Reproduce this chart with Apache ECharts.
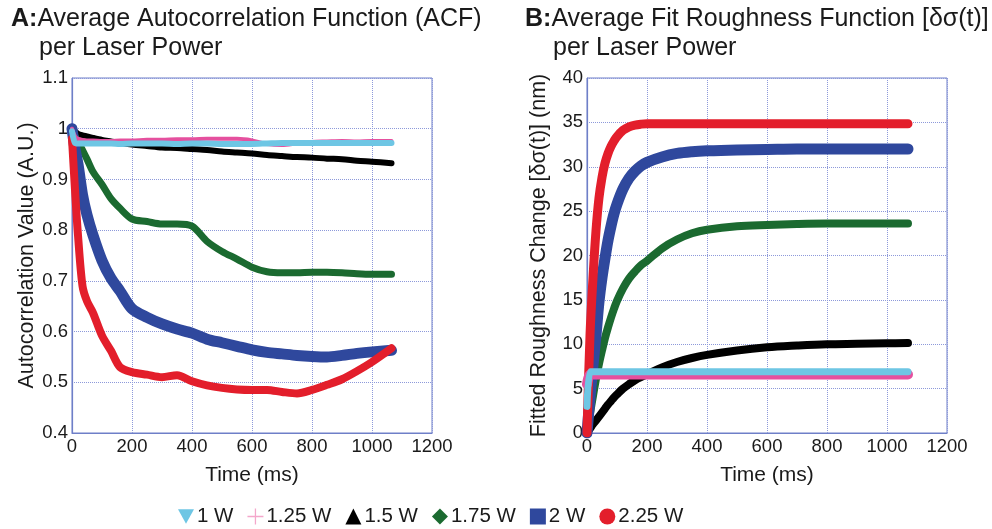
<!DOCTYPE html>
<html>
<head>
<meta charset="utf-8">
<script src="https://cdn.jsdelivr.net/npm/echarts@6/dist/echarts.min.js"></script>
<style>
html,body{margin:0;padding:0;background:#fff;}
#c{width:992px;height:529px;}
</style>
</head>
<body>
<div id="c"></div>
<script>
// ---------- Panel A: Average ACF (time in ms) ----------
const timeA = [0, 10, 20, 35, 50, 70, 100, 130, 160, 200, 250, 300, 350, 400, 450, 500, 550, 600, 650, 700, 750, 800, 850, 900, 950, 1000, 1065];
const acf1W   = [0.995, 0.972, 0.971, 0.971, 0.971, 0.971, 0.971, 0.971, 0.970, 0.971, 0.971, 0.971, 0.970, 0.971, 0.971, 0.970, 0.970, 0.970, 0.971, 0.972, 0.972, 0.972, 0.972, 0.972, 0.972, 0.972, 0.972];
const acf125W = [1.000, 0.985, 0.980, 0.978, 0.977, 0.977, 0.976, 0.976, 0.977, 0.977, 0.978, 0.978, 0.979, 0.979, 0.980, 0.980, 0.980, 0.977, 0.970, 0.968, 0.971, 0.974, 0.975, 0.976, 0.975, 0.976, 0.976];
const acf15W  = [1.000, 0.995, 0.990, 0.987, 0.985, 0.982, 0.978, 0.975, 0.972, 0.969, 0.966, 0.963, 0.962, 0.960, 0.958, 0.955, 0.953, 0.951, 0.948, 0.946, 0.944, 0.943, 0.941, 0.940, 0.937, 0.935, 0.932];
const acf175W = [1.000, 0.985, 0.975, 0.958, 0.940, 0.915, 0.890, 0.862, 0.843, 0.822, 0.817, 0.812, 0.812, 0.808, 0.778, 0.758, 0.743, 0.727, 0.718, 0.716, 0.716, 0.717, 0.717, 0.716, 0.714, 0.713, 0.713];
const acf2W   = [1.000, 0.960, 0.930, 0.870, 0.830, 0.790, 0.740, 0.705, 0.680, 0.645, 0.628, 0.615, 0.605, 0.597, 0.585, 0.578, 0.571, 0.564, 0.559, 0.556, 0.553, 0.551, 0.550, 0.553, 0.557, 0.560, 0.563];
const acf225W = [0.980, 0.880, 0.790, 0.690, 0.660, 0.637, 0.592, 0.562, 0.530, 0.520, 0.515, 0.510, 0.514, 0.502, 0.494, 0.489, 0.486, 0.485, 0.485, 0.481, 0.478, 0.485, 0.495, 0.506, 0.522, 0.540, 0.567];

// ---------- Panel B: Fitted roughness change (nm) ----------
const timeB = [0, 10, 20, 30, 40, 50, 60, 70, 80, 90, 100, 120, 140, 160, 180, 200, 250, 300, 350, 400, 500, 600, 700, 800, 900, 1000, 1070];
const rough1W   = [3.0, 6.9, 6.9, 6.9, 6.9, 6.9, 6.9, 6.9, 6.9, 6.9, 6.9, 6.9, 6.9, 6.9, 6.9, 6.9, 6.9, 6.9, 6.9, 6.9, 6.9, 6.9, 6.9, 6.9, 6.9, 6.9, 6.9];
const rough125W = [5.5, 6.6, 6.6, 6.6, 6.6, 6.6, 6.6, 6.6, 6.6, 6.6, 6.6, 6.6, 6.6, 6.6, 6.6, 6.6, 6.6, 6.6, 6.6, 6.6, 6.6, 6.6, 6.6, 6.6, 6.6, 6.6, 6.6];
const rough15W  = [0, 0.5, 1.0, 1.4, 1.85, 2.3, 2.75, 3.2, 3.6, 4.0, 4.35, 5.0, 5.5, 5.95, 6.3, 6.6, 7.4, 8.0, 8.45, 8.8, 9.3, 9.65, 9.85, 10.0, 10.05, 10.1, 10.15];
const rough175W = [0, 2.2, 4.2, 6.1, 7.8, 9.3, 10.7, 11.9, 13.0, 14.0, 14.9, 16.3, 17.4, 18.2, 18.9, 19.4, 20.8, 21.8, 22.5, 22.9, 23.3, 23.45, 23.55, 23.6, 23.6, 23.6, 23.6];
const rough2W   = [0, 4.0, 7.6, 11.0, 14.8, 17.5, 19.7, 21.7, 23.3, 24.7, 25.8, 27.5, 28.7, 29.5, 30.1, 30.5, 31.1, 31.5, 31.7, 31.8, 31.9, 31.95, 32.0, 32.0, 32.0, 32.0, 32.0];
const rough225W = [0, 11.0, 17.5, 22.8, 26.5, 28.8, 30.4, 31.5, 32.3, 32.9, 33.4, 34.1, 34.5, 34.7, 34.8, 34.85, 34.85, 34.85, 34.85, 34.85, 34.85, 34.85, 34.85, 34.85, 34.85, 34.85, 34.85];

// ---------- Labels ----------
const seriesNames = ['1 W', '1.25 W', '1.5 W', '1.75 W', '2 W', '2.25 W'];
const xTicks = [0, 200, 400, 600, 800, 1000, 1200];

const colors = ['#6EC6E4', '#E5509E', '#000000', '#1B6A30', '#2F489D', '#E31E2B'];
const legendColors = ['#6EC6E4', '#F4A7CB', '#000000', '#1B6A30', '#2F489D', '#E31E2B'];
const icons = [
  'path://M0,0L10,0L5,9Z',
  'path://M4.6,0h0.8v4.6h4.6v0.8h-4.6v4.6h-0.8v-4.6h-4.6v-0.8h4.6Z',
  'triangle',
  'diamond',
  'rect',
  'circle'
];
const widthsA = [6, 4, 6, 7, 11, 8];
const widthsB = [7, 10, 8, 8, 11, 9];

const FONT = '"Liberation Sans", Arial, Helvetica, sans-serif';
const AXIS_COLOR = '#6E7FC8';
const GRID_COLOR = '#8D99DA';
const TXT = '#1a1a1a';

function pairs(t, v) { return t.map((x, i) => [x, v[i]]); }

const dataA = [acf1W, acf125W, acf15W, acf175W, acf2W, acf225W];
const dataB = [rough1W, rough125W, rough15W, rough175W, rough2W, rough225W];
const drawOrder = [2, 3, 4, 5, 1, 0];

const series = [];
drawOrder.forEach(i => {
  series.push({
    name: seriesNames[i], type: 'line', xAxisIndex: 0, yAxisIndex: 0,
    data: pairs(timeA, dataA[i]), showSymbol: false, smooth: 0.3,
    lineStyle: { color: colors[i], width: widthsA[i], cap: 'round', join: 'round' },
    itemStyle: { color: colors[i] }
  });
});
drawOrder.forEach(i => {
  series.push({
    name: seriesNames[i], type: 'line', xAxisIndex: 1, yAxisIndex: 1,
    data: pairs(timeB, dataB[i]), showSymbol: false, smooth: 0.35,
    lineStyle: { color: colors[i], width: widthsB[i], cap: 'round', join: 'round' },
    itemStyle: { color: colors[i] }
  });
});

function xAxis(gi) {
  return {
    gridIndex: gi, type: 'value', min: xTicks[0], max: xTicks[xTicks.length - 1], interval: 200,
    name: 'Time (ms)', nameLocation: 'middle', nameGap: 32,
    nameTextStyle: { fontSize: 21, color: TXT, fontFamily: FONT },
    axisLine: { show: true, lineStyle: { color: AXIS_COLOR, width: 1.2 } },
    axisTick: { show: false },
    axisLabel: { fontSize: 18.5, color: TXT, fontFamily: FONT, margin: 4, formatter: v => String(v) },
    splitLine: { show: true, lineStyle: { type: 'dotted', color: GRID_COLOR, width: 1 } }
  };
}

const titleStyle = { fontSize: 25, fontWeight: 'normal', color: TXT, fontFamily: FONT,
  rich: { b: { fontSize: 25, fontWeight: 'bold', color: TXT, fontFamily: FONT } } };

const option = {
  animation: false,
  backgroundColor: '#ffffff',
  textStyle: { fontFamily: FONT },
  title: [
    { text: '{b|A:}Average Autocorrelation Function (ACF)', left: 11, top: 7, padding: 0, textStyle: titleStyle },
    { text: 'per Laser Power', left: 39, top: 36, padding: 0, textStyle: titleStyle },
    { text: '{b|B:}Average Fit Roughness Function [δσ(t)]', left: 525, top: 7, padding: 0, textStyle: titleStyle },
    { text: 'per Laser Power', left: 553, top: 36, padding: 0, textStyle: titleStyle }
  ],
  legend: {
    left: 178, top: 506, padding: 0, itemGap: 14, itemWidth: 16, itemHeight: 16,
    selectedMode: false,
    textStyle: { fontSize: 20.5, color: TXT, fontFamily: FONT, padding: [0, 0, 0, -2] },
    data: seriesNames.map((n, i) => ({ name: n, icon: icons[i], itemStyle: { color: legendColors[i] } }))
  },
  grid: [
    { left: 72, top: 78, width: 360, height: 355, show: true, borderColor: AXIS_COLOR, borderWidth: 1, backgroundColor: 'transparent' },
    { left: 587, top: 78, width: 360, height: 355, show: true, borderColor: AXIS_COLOR, borderWidth: 1, backgroundColor: 'transparent' }
  ],
  xAxis: [xAxis(0), xAxis(1)],
  yAxis: [
    { gridIndex: 0, type: 'value', min: 0.4, max: 1.1, interval: 0.1,
      name: 'Autocorrelation Value (A.U.)', nameLocation: 'middle', nameGap: 34,
      nameTextStyle: { fontSize: 21.5, color: TXT, fontFamily: FONT },
      axisLine: { show: true, lineStyle: { color: AXIS_COLOR, width: 1.2 } },
      axisTick: { show: false },
      axisLabel: { fontSize: 18.5, color: TXT, fontFamily: FONT, margin: 4,
        formatter: v => String(Math.round(v * 10) / 10) },
      splitLine: { show: true, lineStyle: { type: 'dotted', color: GRID_COLOR, width: 1 } } },
    { gridIndex: 1, type: 'value', min: 0, max: 40, interval: 5,
      name: 'Fitted Roughness Change [δσ(t)] (nm)', nameLocation: 'middle', nameGap: 37,
      nameTextStyle: { fontSize: 21.5, color: TXT, fontFamily: FONT },
      axisLine: { show: true, lineStyle: { color: AXIS_COLOR, width: 1.2 } },
      axisTick: { show: false },
      axisLabel: { fontSize: 18.5, color: TXT, fontFamily: FONT, margin: 4 },
      splitLine: { show: true, lineStyle: { type: 'dotted', color: GRID_COLOR, width: 1 } } }
  ],
  series: series
};

const chart = echarts.init(document.getElementById('c'), null, { renderer: 'canvas' });
chart.setOption(option);
</script>
</body>
</html>
